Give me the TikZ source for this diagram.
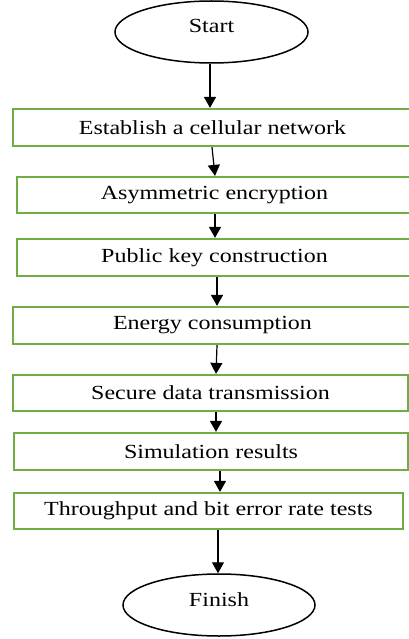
\documentclass[tikz,border=0pt]{standalone}
\usepackage{fontspec}
\setmainfont[FakeStretch=1.2]{Liberation Serif}
\usetikzlibrary{shapes.geometric,arrows.meta}
\definecolor{boxgreen}{HTML}{70AD47}
\tikzset{
  stepbox/.style={draw=boxgreen, line width=2.2pt, rectangle, inner sep=0pt, font=\fontsize{20}{24}\selectfont},
  term/.style={draw=black, line width=1.5pt, ellipse, inner sep=0pt},
  termtext/.style={inner sep=0pt, font=\fontsize{20}{24}\selectfont},
  arr/.style={draw=black, line width=1.2pt, -{Triangle[length=11pt,width=12pt]}}
}
\begin{document}
\begin{tikzpicture}[x=1pt,y=-1pt]
\useasboundingbox (0,0) rectangle (409,639);
\node[term, minimum width=193pt, minimum height=62pt] (st) at (211.5,32) {};
\node[termtext] (stt) at (211.5,26) {Start};
\node[stepbox, minimum width=405pt, minimum height=37pt] (b1) at (215.5,127.5) {\hspace*{-6pt}Establish a cellular network};
\node[stepbox, minimum width=401pt, minimum height=36pt] (b2) at (217.5,195) {\hspace*{-6pt}Asymmetric encryption};
\node[stepbox, minimum width=401pt, minimum height=37pt] (b3) at (217.5,257.5) {\hspace*{-6pt}Public key construction};
\node[stepbox, minimum width=405pt, minimum height=37pt] (b4) at (215.5,325.5) {\hspace*{-6pt}Energy consumption};
\node[stepbox, minimum width=395pt, minimum height=36pt] (b5) at (210.5,393) {Secure data transmission};
\node[stepbox, minimum width=394pt, minimum height=37pt] (b6) at (211,451.5) {Simulation results};
\node[stepbox, minimum width=389pt, minimum height=36pt] (b7) at (208.5,511) {Throughput and bit error rate tests};
\node[term, minimum width=192pt, minimum height=62pt] (fn) at (219,605) {};
\node[termtext] (fnt) at (219,600) {Finish};
\draw[arr] ([xshift=-1.5pt]st.south) -- ([xshift=-5.5pt]b1.north);
\draw[arr] ([xshift=-3.5pt]b1.south) -- ([xshift=-2.5pt]b2.north);
\draw[arr] ([xshift=-2.5pt]b2.south) -- ([xshift=-2.5pt]b3.north);
\draw[arr] ([xshift=-0.5pt]b3.south) -- ([xshift=1.5pt]b4.north);
\draw[arr] ([xshift=1.5pt]b4.south) -- ([xshift=5.5pt]b5.north);
\draw[arr] ([xshift=5.5pt]b5.south) -- ([xshift=5pt]b6.north);
\draw[arr] ([xshift=9pt]b6.south) -- ([xshift=11.5pt]b7.north);
\draw[arr] ([xshift=9.5pt]b7.south) -- ([xshift=-1pt]fn.north);
\end{tikzpicture}
\end{document}
